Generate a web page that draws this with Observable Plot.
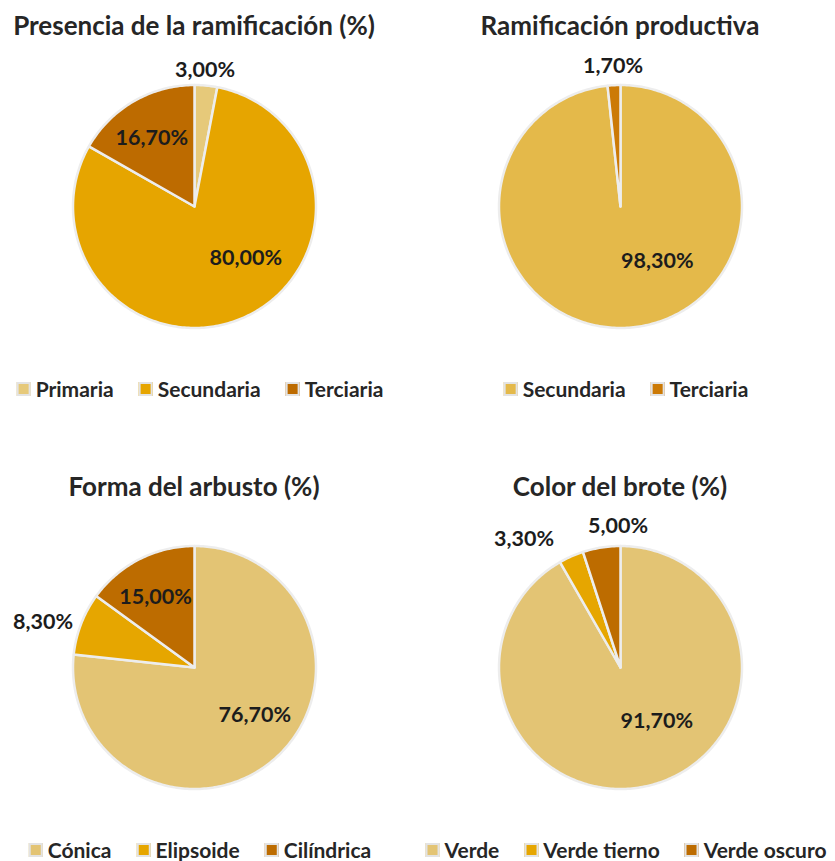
<!DOCTYPE html>
<html><head><meta charset="utf-8">
<script src="https://cdn.jsdelivr.net/npm/d3@7"></script>
<script src="https://cdn.jsdelivr.net/npm/@observablehq/plot@0.6"></script>
<style>
body{margin:0;background:#fff;font-family:Lato,"Open Sans",sans-serif;color:#262626;}
#page{position:relative;width:835px;height:861px;overflow:hidden}
.cell{position:absolute;width:388px;height:398px}
.title{position:absolute;top:0;left:-40px;width:468px;height:50px;line-height:50px;text-align:center;font-weight:700;font-size:26px;white-space:nowrap;color:#262626}
.plotwrap{position:absolute;top:50px;left:0}
.legend{position:absolute;top:380px;left:200px;transform:translateX(-50%);white-space:nowrap;font-weight:700;font-size:21px;line-height:18px;height:18px;display:flex;align-items:center;color:#262626}
.item{display:flex;align-items:center;margin-right:25px}
.item:last-child{margin-right:0}
.sw{width:10px;height:10px;border:2px solid #e3e3e3;margin-right:5px}
</style>
</head><body>
<div id="page"></div>
<script>
// ---- data ----
const titles = ["Presencia de la ramificación (%)", "Ramificación productiva", "Forma del arbusto (%)", "Color del brote (%)"];
const presenciaCats = ["Primaria", "Secundaria", "Terciaria"];
const presenciaVals = [3.0, 80.0, 16.7];
const productivaCats = ["Secundaria", "Terciaria"];
const productivaVals = [98.3, 1.7];
const formaCats = ["Cónica", "Elipsoide", "Cilíndrica"];
const formaVals = [76.7, 8.3, 15.0];
const broteCats = ["Verde", "Verde tierno", "Verde oscuro"];
const broteVals = [91.7, 3.3, 5.0];

// ---- styles / layout ----
const presenciaColors = ["#E6C97A", "#E6A500", "#BD6B00"];
const productivaColors = ["#E4B94A", "#CC7A05"];
const formaColors = ["#E3C474", "#E6A600", "#BD6C00"];
const broteColors = ["#E3C474", "#E6A600", "#BD6C00"];
// label placement per slice: [angle nudge in degrees, distance as fraction of radius]
const presenciaPlace = [[-1, 1.13], [-20, 0.6], [-2, 0.66]];
const productivaPlace = [[-31, 0.54], [0, 1.16]];
const formaPlace = [[-10, 0.63], [-4.5, 1.3], [-2, 0.66]];
const brotePlace = [[-19.4, 0.53], [-13, 1.32], [8, 1.16]];
const cells = [
  {left: 0, top: 0}, {left: 426, top: 0}, {left: 0, top: 461}, {left: 426, top: 461}
];

const K = 121.5; // pixels per unit radius
const W = 388, H = 310, CY = 156;

const fmt = v => v.toFixed(2).replace(".", ",") + "%";

function pieChart(cats, vals, colors, place) {
  const total = d3.sum(vals);
  let a0 = 0;
  const pts = [], labels = [];
  cats.forEach((c, i) => {
    const a1 = a0 + vals[i] / total * 2 * Math.PI;
    const n = Math.max(2, Math.ceil((a1 - a0) / (Math.PI / 180)));
    pts.push({cat: c, x: 0, y: 0});
    for (let k = 0; k <= n; k++) {
      const t = a0 + (a1 - a0) * k / n;
      pts.push({cat: c, x: Math.sin(t), y: Math.cos(t)});
    }
    pts.push({cat: c, x: 0, y: 0});
    const [nudge, dist] = place[i];
    const m = (a0 + a1) / 2 + nudge * Math.PI / 180;
    labels.push({x: dist * Math.sin(m), y: dist * Math.cos(m), text: fmt(vals[i])});
    a0 = a1;
  });
  return Plot.plot({
    width: W, height: H, margin: 0,
    style: {fontFamily: "Lato, sans-serif", background: "transparent", overflow: "visible"},
    x: {domain: [-(W / 2) / K, (W / 2) / K], axis: null},
    y: {domain: [-(H - CY) / K, CY / K], axis: null},
    color: {domain: cats, range: colors},
    marks: [
      Plot.line(pts, {x: "x", y: "y", z: "cat", fill: "cat", stroke: "#ededed", strokeWidth: 2.5, strokeLinejoin: "round", curve: "linear"}),
      Plot.text(labels, {x: "x", y: "y", text: "text", fontSize: 21.5, fontWeight: 700, fill: "#1c1c1c"})
    ]
  });
}

const charts = [
  [presenciaCats, presenciaVals, presenciaColors, presenciaPlace],
  [productivaCats, productivaVals, productivaColors, productivaPlace],
  [formaCats, formaVals, formaColors, formaPlace],
  [broteCats, broteVals, broteColors, brotePlace]
];

const page = document.getElementById("page");
charts.forEach(([cats, vals, colors, place], i) => {
  const cell = document.createElement("div");
  cell.className = "cell";
  cell.style.left = cells[i].left + "px";
  cell.style.top = cells[i].top + "px";
  const t = document.createElement("div");
  t.className = "title";
  t.textContent = titles[i];
  cell.appendChild(t);
  const wrap = document.createElement("div");
  wrap.className = "plotwrap";
  wrap.appendChild(pieChart(cats, vals, colors, place));
  cell.appendChild(wrap);
  const lg = document.createElement("div");
  lg.className = "legend";
  cats.forEach((c, j) => {
    const it = document.createElement("div");
    it.className = "item";
    const sw = document.createElement("span");
    sw.className = "sw";
    sw.style.background = colors[j];
    const tx = document.createElement("span");
    tx.textContent = c;
    it.appendChild(sw); it.appendChild(tx);
    lg.appendChild(it);
  });
  cell.appendChild(lg);
  page.appendChild(cell);
});
</script>
</body></html>
